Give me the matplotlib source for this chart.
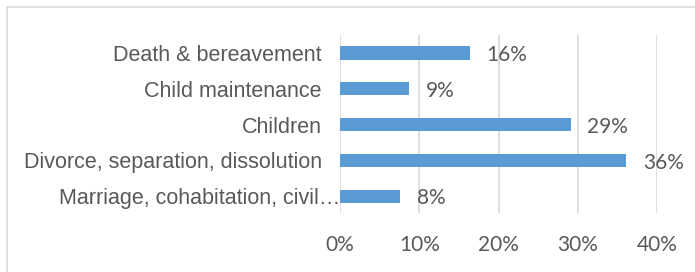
import matplotlib.pyplot as plt
import matplotlib.transforms as mtransforms
from matplotlib.patches import Rectangle
from matplotlib.ticker import FuncFormatter

# data, bottom to top
categories = ['Marriage, cohabitation, civil\u2026', 'Divorce, separation, dissolution',
              'Children', 'Child maintenance', 'Death & bereavement']
shares = [0.076, 0.361, 0.291, 0.087, 0.164]
share_labels = ['8%', '36%', '29%', '9%', '16%']
x_ticks = [0, 0.1, 0.2, 0.3, 0.4]

text_col = '#595959'
bar_col = '#5B9BD5'

fig = plt.figure(figsize=(6.95, 2.72), dpi=100)
fig.patches.append(Rectangle((7 / 695, -0.1), 1.0, 1 - 7 / 272 + 0.1,
                             transform=fig.transFigure, fill=False,
                             edgecolor='#D9D9D9', linewidth=1.2))

ax = fig.add_axes([340 / 695, 1 - 213 / 272, 317 / 695, 178 / 272])
y = list(range(len(categories)))
ax.barh(y, shares, height=0.37, color=bar_col, zorder=3)
for yi, v, lab in zip(y, shares, share_labels):
    ax.text(v + 0.021, yi - 0.06, lab, va='center', ha='left', fontsize=15,
            color=text_col, family=['Lato', 'DejaVu Sans'])

ax.set_xlim(0, 0.4)
ax.set_ylim(-0.47, 4.5)
ax.set_xticks(x_ticks)
ax.xaxis.set_major_formatter(FuncFormatter(lambda v, p: '{:.0f}%'.format(v * 100)))
ax.set_yticks(y)
ax.set_yticklabels(categories, fontsize=15.5, color=text_col, family=['Liberation Sans', 'DejaVu Sans'])
for t in ax.get_xticklabels():
    t.set_fontsize(15)
    t.set_color(text_col)
    t.set_family(['Lato', 'DejaVu Sans'])
ax.tick_params(axis='x', length=0, pad=16)
ax.tick_params(axis='y', length=0, pad=13)
# the truncated label runs up to the axis line
lab0 = ax.get_yticklabels()[0]
lab0.set_transform(lab0.get_transform() + mtransforms.ScaledTranslation(18 / 100, 0, fig.dpi_scale_trans))
ax.grid(axis='x', color='#D9D9D9', linewidth=1.2, zorder=0)
for s in ax.spines.values():
    s.set_visible(False)

fig.savefig('out.png', dpi=100)
